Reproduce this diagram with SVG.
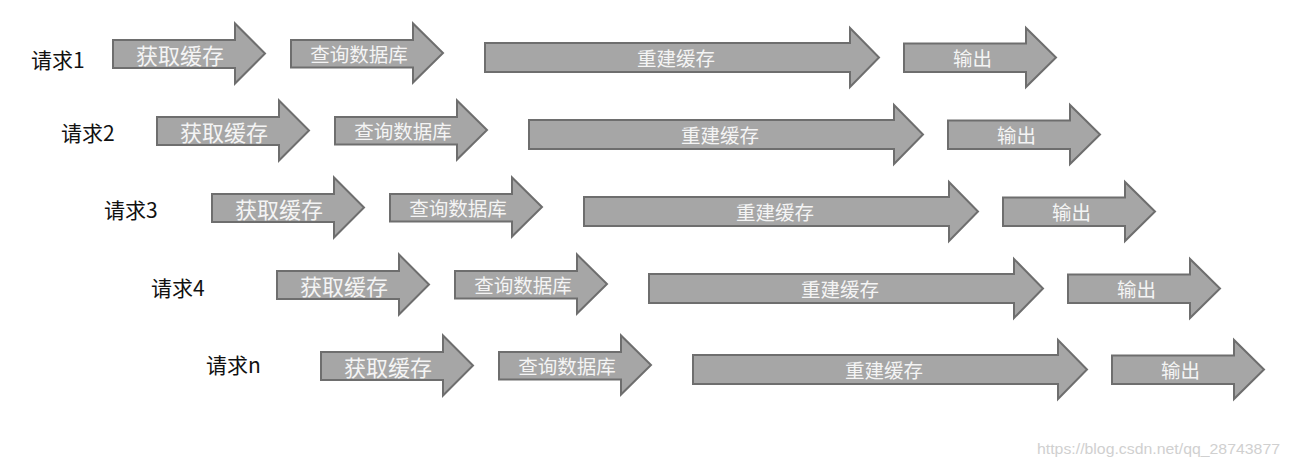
<svg xmlns="http://www.w3.org/2000/svg" xmlns:xlink="http://www.w3.org/1999/xlink" width="1289" height="467" viewBox="0 0 1289 467">
<style>
.arr{fill:#a6a6a6;stroke:#6e6e6e;stroke-width:2;stroke-linejoin:miter}
.t{font-family:"Noto Sans CJK SC","Liberation Sans",sans-serif;fill:#f4f4f4;text-anchor:middle;dominant-baseline:central}
.big{font-size:22px}
.sm{font-size:19.5px}
.lbl{font-family:"Noto Sans CJK SC","Liberation Sans",sans-serif;font-size:21px;fill:#111;dominant-baseline:central}
.wm{font-family:"Liberation Sans",Arial,sans-serif;font-size:15px;fill:#d0d0d0}
</style>
<defs>
<path id="a-get" d="M113,40 H235 V23.5 L265,53.5 L235,83.5 V68 H113 Z"/>
<path id="a-query" d="M291,40 H413 V23.5 L443,53 L413,82.5 V67.5 H291 Z"/>
<path id="a-rebuild" d="M485,43 H850 V28 L879,57.5 L850,87 V72 H485 Z"/>
<path id="a-output" d="M904,43.5 H1026 V28 L1056,57.5 L1026,87 V72 H904 Z"/>
</defs>
<rect width="1289" height="467" fill="#ffffff"/>

<g id="row1" transform="translate(0,0)">
<g id="label1"><text class="lbl" x="31" y="58.5">请求1</text></g>
<g id="get1"><use href="#a-get" class="arr"/><text class="t big" x="180" y="53.5">获取缓存</text></g>
<g id="query1"><use href="#a-query" class="arr"/><text class="t sm" x="359" y="53">查询数据库</text></g>
<g id="rebuild1"><use href="#a-rebuild" class="arr"/><text class="t sm" x="676" y="57.5">重建缓存</text></g>
<g id="output1"><use href="#a-output" class="arr"/><text class="t sm" x="972.5" y="57.5">输出</text></g>
</g>

<g id="row2" transform="translate(44,77)">
<g id="label2"><text class="lbl" x="17" y="54.5">请求2</text></g>
<g id="get2"><use href="#a-get" class="arr"/><text class="t big" x="180" y="53.5">获取缓存</text></g>
<g id="query2"><use href="#a-query" class="arr"/><text class="t sm" x="359" y="53">查询数据库</text></g>
<g id="rebuild2"><use href="#a-rebuild" class="arr"/><text class="t sm" x="676" y="57.5">重建缓存</text></g>
<g id="output2"><use href="#a-output" class="arr"/><text class="t sm" x="972.5" y="57.5">输出</text></g>
</g>

<g id="row3" transform="translate(99,154)">
<g id="label3"><text class="lbl" x="5" y="54.5">请求3</text></g>
<g id="get3"><use href="#a-get" class="arr"/><text class="t big" x="180" y="53.5">获取缓存</text></g>
<g id="query3"><use href="#a-query" class="arr"/><text class="t sm" x="359" y="53">查询数据库</text></g>
<g id="rebuild3"><use href="#a-rebuild" class="arr"/><text class="t sm" x="676" y="57.5">重建缓存</text></g>
<g id="output3"><use href="#a-output" class="arr"/><text class="t sm" x="972.5" y="57.5">输出</text></g>
</g>

<g id="row4" transform="translate(164,231)">
<g id="label4"><text class="lbl" x="-13" y="55.5">请求4</text></g>
<g id="get4"><use href="#a-get" class="arr"/><text class="t big" x="180" y="53.5">获取缓存</text></g>
<g id="query4"><use href="#a-query" class="arr"/><text class="t sm" x="359" y="53">查询数据库</text></g>
<g id="rebuild4"><use href="#a-rebuild" class="arr"/><text class="t sm" x="676" y="57.5">重建缓存</text></g>
<g id="output4"><use href="#a-output" class="arr"/><text class="t sm" x="972.5" y="57.5">输出</text></g>
</g>

<g id="rown" transform="translate(208,312)">
<g id="labeln"><text class="lbl" x="-2" y="51.5">请求n</text></g>
<g id="getn"><use href="#a-get" class="arr"/><text class="t big" x="180" y="53.5">获取缓存</text></g>
<g id="queryn"><use href="#a-query" class="arr"/><text class="t sm" x="359" y="53">查询数据库</text></g>
<g id="rebuildn"><use href="#a-rebuild" class="arr"/><text class="t sm" x="676" y="57.5">重建缓存</text></g>
<g id="outputn"><use href="#a-output" class="arr"/><text class="t sm" x="972.5" y="57.5">输出</text></g>
</g>

<g id="connectors"></g>

<text class="wm" x="1037" y="454" textLength="243" lengthAdjust="spacingAndGlyphs">https://blog.csdn.net/qq_28743877</text>
</svg>
